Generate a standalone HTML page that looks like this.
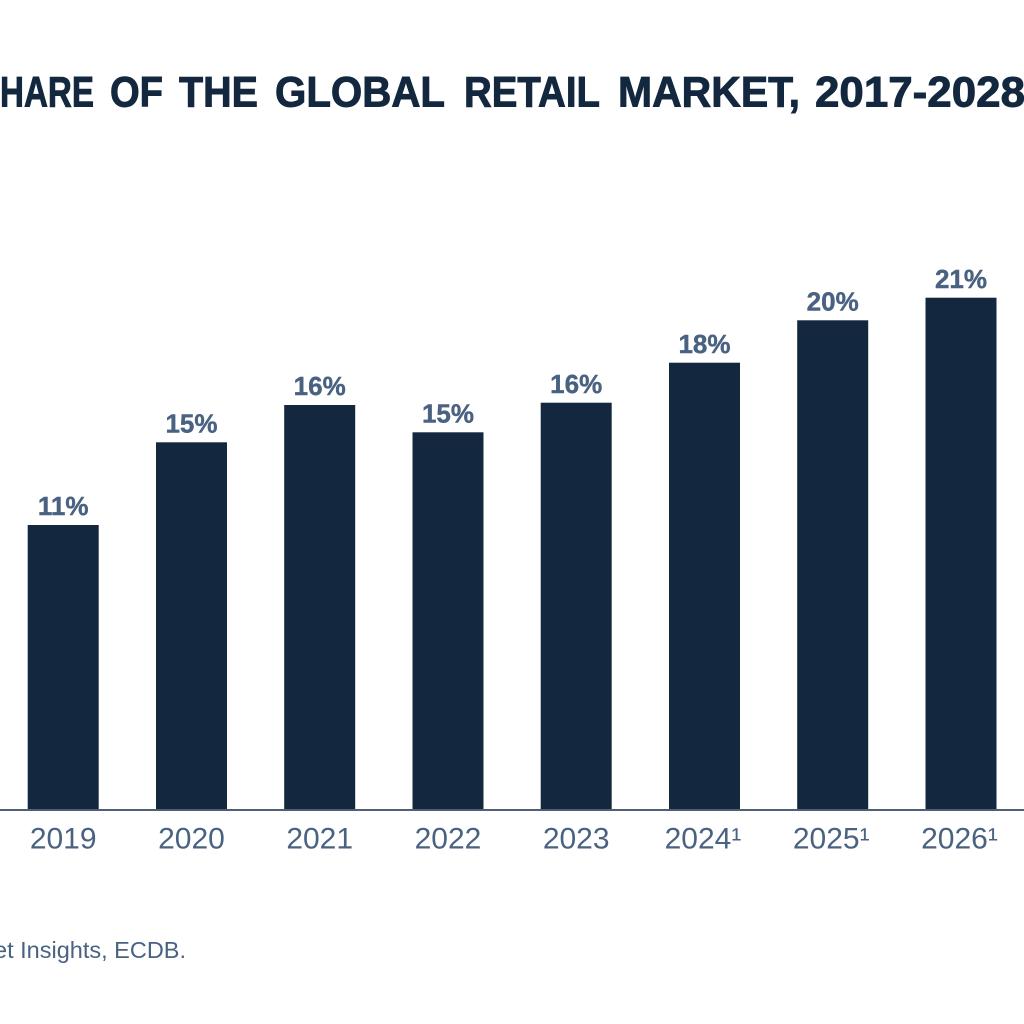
<!DOCTYPE html>
<html>
<head>
<meta charset="utf-8">
<style>
  html, body { margin: 0; padding: 0; background: #ffffff; }
  body { width: 1024px; height: 1024px; overflow: hidden; }
  svg { display: block; }
</style>
</head>
<body>
<svg width="1024" height="1024" viewBox="0 0 1024 1024" xmlns="http://www.w3.org/2000/svg">
  <rect x="0" y="0" width="1024" height="1024" fill="#ffffff"/>

  <!-- Title (cropped) -->
  <g font-family="'Liberation Sans', sans-serif" font-weight="bold" font-size="43" fill="#13283f" stroke="#13283f" stroke-width="0.9">
    <text x="-37" y="106.5">S</text>
    <text x="0" y="106.5" textLength="94" lengthAdjust="spacingAndGlyphs">HARE</text>
    <text x="110" y="106.5" textLength="53" lengthAdjust="spacingAndGlyphs">OF</text>
    <text x="179" y="106.5" textLength="79" lengthAdjust="spacingAndGlyphs">THE</text>
    <text x="275" y="106.5" textLength="170" lengthAdjust="spacingAndGlyphs">GLOBAL</text>
    <text x="464" y="106.5" textLength="136" lengthAdjust="spacingAndGlyphs">RETAIL</text>
    <text x="618" y="106.5" textLength="182" lengthAdjust="spacingAndGlyphs">MARKET,</text>
    <text x="815" y="106.5" textLength="210" lengthAdjust="spacingAndGlyphs">2017-2028</text>
  </g>

  <!-- Bars -->
  <g fill="#13283f">
    <rect x="27.7" y="525" width="71" height="284"/>
    <rect x="156" y="442.3" width="71" height="366.7"/>
    <rect x="284.2" y="405" width="71" height="404"/>
    <rect x="412.5" y="432.3" width="71" height="376.7"/>
    <rect x="540.7" y="402.7" width="71" height="406.3"/>
    <rect x="669" y="362.7" width="71" height="446.3"/>
    <rect x="797.2" y="320.3" width="71" height="488.7"/>
    <rect x="925.5" y="297.7" width="71" height="511.3"/>
  </g>

  <!-- Axis line -->
  <rect x="0" y="809" width="1024" height="2" fill="#4f5f75"/>

  <!-- Value labels -->
  <g font-family="'Liberation Sans', sans-serif" font-weight="bold" font-size="26" fill="#4a6282" stroke="#4a6282" stroke-width="0.4" text-anchor="middle">
    <text x="63.2" y="515">11%</text>
    <text x="191.5" y="432.5">15%</text>
    <text x="319.7" y="395">16%</text>
    <text x="448" y="422.5">15%</text>
    <text x="576.2" y="393">16%</text>
    <text x="704.5" y="353">18%</text>
    <text x="832.7" y="310.5">20%</text>
    <text x="961" y="288">21%</text>
  </g>

  <!-- Year labels -->
  <g font-family="'Liberation Sans', sans-serif" font-size="30" fill="#4a6282" text-anchor="middle">
    <text x="63.2" y="848.5">2019</text>
    <text x="191.5" y="848.5">2020</text>
    <text x="319.7" y="848.5">2021</text>
    <text x="448" y="848.5">2022</text>
    <text x="576.2" y="848.5">2023</text>
    <text x="703" y="848.5">2024¹</text>
    <text x="831.2" y="848.5">2025¹</text>
    <text x="959.5" y="848.5">2026¹</text>
  </g>

  <!-- Source (cropped) -->
  <text x="186" y="958" font-family="'Liberation Sans', sans-serif" font-size="23.5" fill="#4a6282" text-anchor="end">Source: Statista Market Insights, ECDB.</text>
</svg>
</body>
</html>
